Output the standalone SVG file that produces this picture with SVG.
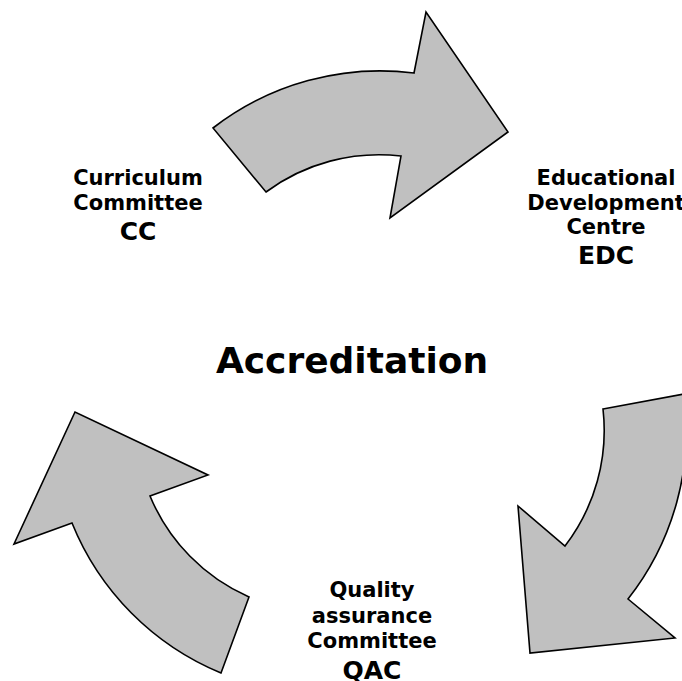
<svg xmlns="http://www.w3.org/2000/svg" width="682" height="681" viewBox="0 0 682 681">
<style>
.arrow{fill:#c0c0c0;stroke:#000;stroke-width:1.6;stroke-linejoin:miter}
text{font-family:"DejaVu Sans",Verdana,sans-serif;font-weight:bold;fill:#000;text-anchor:middle}
.s{font-size:21px}
.b{font-size:25px}
.t{font-size:36px}
</style>
<rect width="682" height="681" fill="#fff"/>
<g id="connectors">
<path id="arrow-top" class="arrow" d="M213,128 A273,273 0 0 1 414,73 L426,12 L508,132 L390,218 L401,156 A190,190 0 0 0 266,192 Z"/>
<path id="arrow-right" class="arrow" d="M603,409 L684,394 A273,273 0 0 1 628,599 L675,638 L530,653 L518,506 L565,546 A190,190 0 0 0 603,409 Z"/>
<path id="arrow-left" class="arrow" d="M221,673 A273,273 0 0 1 72,523 L14,544 L75,412 L208,475 L150,496 A190,190 0 0 0 249,597 Z"/>
</g>
<g id="node-cc">
<text class="s" x="138" y="185">Curriculum</text>
<text class="s" x="138" y="210">Committee</text>
<text class="b" x="138" y="240">CC</text>
</g>
<g id="node-edc">
<text class="s" x="606" y="185">Educational</text>
<text class="s" x="606" y="210">Development</text>
<text class="s" x="606" y="234">Centre</text>
<text class="b" x="606" y="264">EDC</text>
</g>
<g id="node-center">
<text class="t" x="352" y="373">Accreditation</text>
</g>
<g id="node-qac">
<text class="s" x="372" y="597">Quality</text>
<text class="s" x="372" y="623">assurance</text>
<text class="s" x="372" y="648">Committee</text>
<text class="b" x="372" y="679">QAC</text>
</g>
</svg>
